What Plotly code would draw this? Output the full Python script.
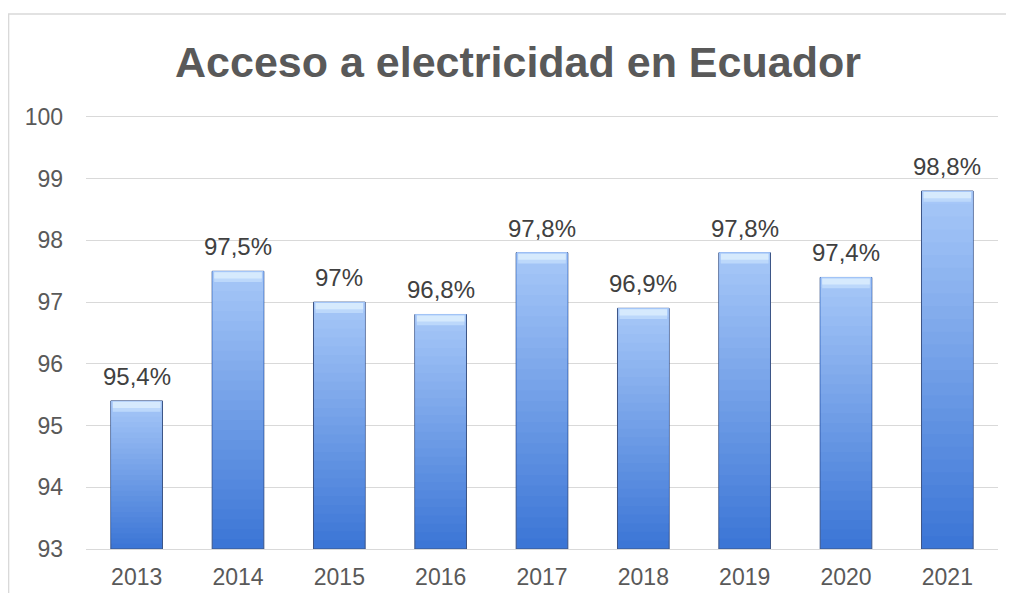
"""
Acceso a electricidad en Ecuador - bar chart
"""

import plotly.graph_objects as go

# data
years = ['2013', '2014', '2015', '2016', '2017', '2018', '2019', '2020', '2021']
access = [95.4, 97.5, 97.0, 96.8, 97.8, 96.9, 97.8, 97.4, 98.8]
y_ticks = [93, 94, 95, 96, 97, 98, 99, 100]

BASE = 93
N_LAYERS = 28
BOTTOM_RGB = (60, 118, 214)
TOP_RGB = (170, 202, 249)
FONT = 'Liberation Sans, Arial, sans-serif'


def blend(a, b, t):
    return 'rgb({},{},{})'.format(*[round(a[i] + (b[i] - a[i]) * t) for i in range(3)])


def fmt_pct(v):
    return f'{v:g}'.replace('.', ',') + '%'


fig = go.Figure()

# base bar with outline
fig.add_trace(go.Bar(
    x=years, y=[v - BASE for v in access], base=BASE,
    marker=dict(color=blend(BOTTOM_RGB, TOP_RGB, 0), line=dict(color='#3d5687', width=1)),
    width=0.51, showlegend=False,
    hovertemplate='%{x}: %{customdata}<extra></extra>',
    customdata=[fmt_pct(v) for v in access],
))

# gradient layers (lighter towards the top of each bar)
for k in range(1, N_LAYERS):
    t = k / N_LAYERS
    bases = [BASE + (v - BASE) * t for v in access]
    fig.add_trace(go.Bar(
        x=years, y=[v - b for v, b in zip(access, bases)], base=bases,
        marker=dict(color=blend(BOTTOM_RGB, TOP_RGB, t), line=dict(width=0)),
        width=0.495, hoverinfo='skip', showlegend=False,
    ))

# bevel highlight at the top of each bar
for h, col in [(0.16, '#bcd8fb'), (0.10, '#d6eafd')]:
    fig.add_trace(go.Bar(
        x=years, y=[h] * len(years), base=[v - h - 0.015 for v in access],
        marker=dict(color=col, line=dict(width=0)),
        width=0.47, hoverinfo='skip', showlegend=False,
    ))

# value labels (category axis -> position by index)
for i, v in enumerate(access):
    fig.add_annotation(
        x=i, y=v, text=fmt_pct(v), showarrow=False,
        yanchor='bottom', yshift=9,
        font=dict(size=24, color='#404040', family=FONT),
    )

fig.update_layout(
    width=998, height=585,
    barmode='overlay',
    plot_bgcolor='white', paper_bgcolor='white',
    margin=dict(l=78, r=8, t=109, b=44),
    font=dict(family=FONT, color='#595959'),
    title=dict(
        text='<b>Acceso a electricidad en Ecuador</b>',
        x=0.511, xref='container', xanchor='center',
        y=0.908, yref='container', yanchor='middle',
        font=dict(size=43, color='#595959', family=FONT),
    ),
)

fig.update_yaxes(
    range=[93, 100], tickvals=y_ticks,
    showgrid=True, gridcolor='#d9d9d9', gridwidth=1,
    zeroline=False, showline=False, ticks='',
    tickfont=dict(size=23, color='#595959'),
    ticklabelstandoff=22, automargin=False,
)
fig.update_xaxes(
    type='category', range=[-0.5, len(years) - 0.5],
    showgrid=False, showline=True, mirror=True, linecolor='#d9d9d9', linewidth=1,
    ticks='', tickfont=dict(size=23, color='#595959'),
    ticklabelstandoff=7, automargin=False,
)

# outer chart frame (left and top edges visible)
fig.add_shape(
    type='rect', xref='paper', yref='paper',
    x0=-0.0849, x1=1.2, y0=-0.5, y1=1.2384,
    line=dict(color='#d9d9d9', width=1.5), fillcolor='rgba(0,0,0,0)', layer='below',
)

fig.write_html("out.html")
